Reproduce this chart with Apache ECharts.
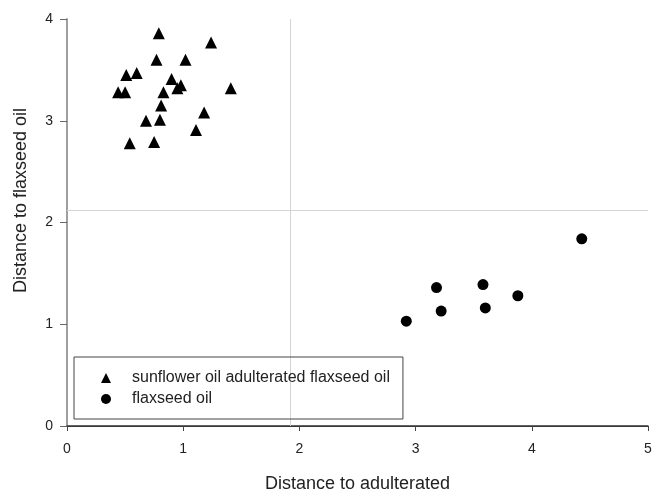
<!DOCTYPE html>
<html>
<head>
<meta charset="utf-8">
<script src="https://cdn.jsdelivr.net/npm/echarts@6/dist/echarts.min.js"></script>
<style>
  html, body { margin: 0; padding: 0; background: #fff; }
  #chart { width: 652px; height: 491px; }
</style>
</head>
<body>
<div id="chart"></div>
<script>
// sunflower oil adulterated flaxseed oil: [distance to adulterated, distance to flaxseed oil]
var adulterated = [
	[0.79, 3.86], [1.24, 3.77], [0.77, 3.60], [1.02, 3.60],
	[0.51, 3.45], [0.60, 3.47], [0.90, 3.41], [0.98, 3.35],
	[0.95, 3.32], [0.44, 3.28], [0.50, 3.28], [0.83, 3.28],
	[1.41, 3.32], [0.81, 3.15], [1.18, 3.08], [0.68, 3.00],
	[0.80, 3.01], [1.11, 2.91], [0.54, 2.78], [0.75, 2.79]
];
// flaxseed oil
var flaxseed = [
	[4.43, 1.84], [3.18, 1.36], [3.58, 1.39], [3.88, 1.28],
	[3.22, 1.13], [3.60, 1.16], [2.92, 1.03]
];
// 参考线
var refX = 1.92;
var refY = 2.12;

var font = 'Liberation Sans, Arial, sans-serif';
var myChart = echarts.init(document.getElementById('chart'));
var option = {
	animation: false,
	backgroundColor: '#fff',
	grid: {
		left: 67,
		right: 4,
		top: 19,
		bottom: 65,
		outerBoundsMode: 'none'
	},
	legend: {
		orient: 'vertical',
		left: 74,
		top: 357,
		padding: [13, 13, 12, 27],
		itemWidth: 10,
		itemHeight: 10,
		itemGap: 5,
		borderColor: '#444',
		borderWidth: 1,
		textStyle: {
			fontFamily: font,
			fontSize: 16,
			lineHeight: 16,
			color: '#222',
			padding: [0, 0, 0, 16]
		},
		data: ['sunflower oil adulterated flaxseed oil', 'flaxseed oil']
	},
	xAxis: [{
		type: 'value',
		min: 0,
		max: 5,
		interval: 1,
		name: 'Distance to adulterated',
		nameLocation: 'middle',
		nameGap: 49,
		nameTextStyle: {
			fontFamily: font,
			fontSize: 18,
			color: '#222'
		},
		axisLine: {
			show: true,
			lineStyle: { color: '#444', width: 1 }
		},
		axisTick: {
			show: true,
			inside: false,
			length: 5,
			lineStyle: { color: '#444' }
		},
		axisLabel: {
			fontFamily: font,
			fontSize: 14,
			color: '#222',
			margin: 16
		},
		splitLine: { show: false }
	}, {
		// 上边框
		type: 'value',
		position: 'top',
		min: 0,
		max: 5,
		axisLine: {
			show: true,
			lineStyle: { color: '#333', width: 1.5 }
		},
		axisTick: { show: false },
		axisLabel: { show: false },
		splitLine: { show: false }
	}],
	yAxis: [{
		type: 'value',
		min: 0,
		max: 4,
		interval: 1,
		name: 'Distance to flaxseed oil',
		nameLocation: 'middle',
		nameGap: 37,
		nameTextStyle: {
			fontFamily: font,
			fontSize: 18,
			color: '#222',
			padding: [0, 0, 0, 44]
		},
		axisLine: {
			show: true,
			lineStyle: { color: '#999', width: 1.5 }
		},
		axisTick: {
			show: true,
			inside: false,
			length: 7,
			lineStyle: { color: '#666' }
		},
		axisLabel: {
			fontFamily: font,
			fontSize: 14,
			color: '#222',
			margin: 14
		},
		splitLine: { show: false }
	}, {
		// 右边框
		type: 'value',
		position: 'right',
		min: 0,
		max: 4,
		axisLine: {
			show: true,
			lineStyle: { color: '#999', width: 1.5 }
		},
		axisTick: { show: false },
		axisLabel: { show: false },
		splitLine: { show: false }
	}],
	series: [{
		name: 'sunflower oil adulterated flaxseed oil',
		type: 'scatter',
		symbol: 'triangle',
		symbolSize: 12,
		itemStyle: { color: '#000', opacity: 1 },
		data: adulterated,
		z: 3,
		markLine: {
			silent: true,
			symbol: 'none',
			label: { show: false },
			lineStyle: { color: '#d4d4d4', width: 1, type: 'solid' },
			data: [{ xAxis: refX }, { yAxis: refY }],
			z: 1
		}
	}, {
		name: 'flaxseed oil',
		type: 'scatter',
		symbol: 'circle',
		symbolSize: 11,
		itemStyle: { color: '#000', opacity: 1 },
		data: flaxseed,
		z: 3
	}]
};
myChart.setOption(option);
</script>
</body>
</html>
